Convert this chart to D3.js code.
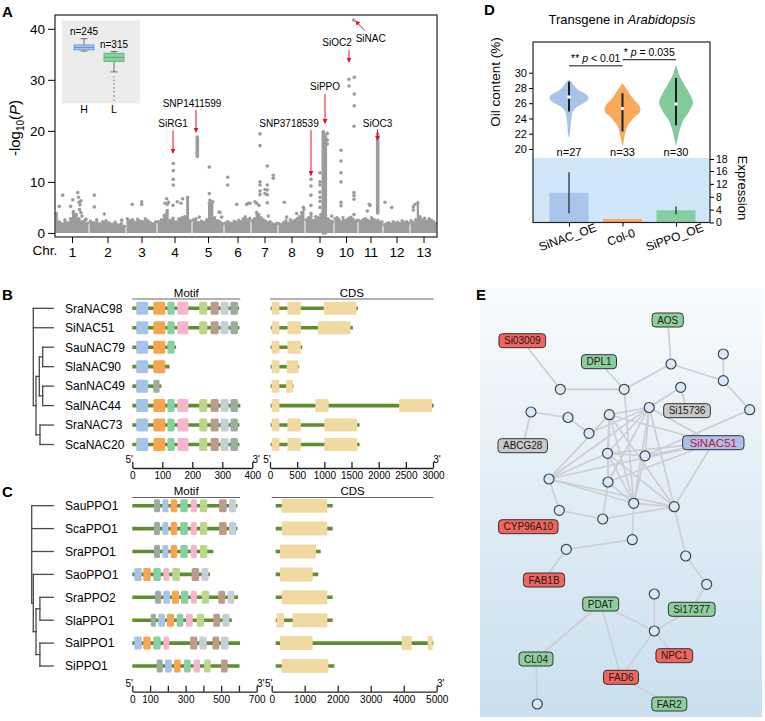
<!doctype html>
<html>
<head>
<meta charset="utf-8">
<script src="https://cdn.jsdelivr.net/npm/d3@7"></script>
<style>
  body { margin: 0; background: #fff; }
  svg { font-family: "Liberation Sans", Arial, sans-serif; }
</style>
</head>
<body>
<svg width="765" height="721"></svg>
<script>
// ---------------- data: panel A (GWAS) ----------------
const chromosomes = ["1","2","3","4","5","6","7","8","9","10","11","12","13"];
const chrLengths = [34,37,31,35,32,27,27,27,29,24,25,27,27]; // Mb (approx)
// height of the dense low-significance mass along each chromosome (-log10 P)
const backgroundLevels = [
  [3.8,2.2,1.8,2.6,2.0,2.8,4.2,3.6,2.8,2.2,2.5,1.9],
  [2.3,2.0,2.6,1.8,2.2,2.4,2.0,1.7,2.1,1.6,1.8,1.3],
  [2.8,2.4,2.6,2.1,2.7,2.3,2.2,2.8,2.4,2.0,1.8,2.2],
  [2.2,2.6,3.4,4.4,2.5,2.9,2.2,2.8,3.0,3.2,7.0,2.4],
  [2.6,2.8,2.0,2.3,2.1,2.6,5.8,6.0,3.0,2.4,2.2,1.8],
  [1.9,2.2,2.0,1.8,2.3,2.0,2.5,2.2,2.8,3.2,2.6,2.9],
  [2.4,2.8,4.0,3.6,3.0,2.6,2.3,2.0,2.2,1.8,1.6,1.9],
  [1.8,1.6,2.0,2.4,1.9,2.6,2.2,2.5,2.8,3.2,4.0,4.6],
  [2.6,3.0,3.3,2.5,3.2,3.0,3.6,4.2,3.5,2.8,2.4,2.2],
  [2.8,3.0,2.6,2.2,3.0,2.4,2.6,2.9,3.1,2.7,2.2,2.5],
  [2.4,2.2,2.6,2.8,2.5,2.3,3.0,2.6,2.1,2.5,2.0,2.2],
  [1.6,1.8,2.0,1.7,2.2,1.9,2.1,1.8,2.4,2.0,2.2,1.9],
  [2.4,2.0,2.6,5.9,3.2,2.6,2.9,2.3,2.8,2.5,2.2,1.8]
];
// [chromosome, position within chromosome (Mb), -log10 P]
const snpPoints = [
  [1,4.3,5.2],[1,7.7,7.4],[1,15.7,5.2],[1,17.7,6.5],[1,18.3,3.9],[1,22.7,7.9],[1,23.5,7.0],[1,24,6.0],
  [1,25,5.5],[1,26,6.3],[1,24.5,4.6],[1,26,4.0],[1,31,2.7],[1,27,3.3],
  [2,5.3,7.4],[2,5.3,5.1],[2,15.3,3.7],[2,32.7,2.5],
  [3,6.3,5.6],[3,15.7,5.6],[3,15.7,6.1],
  [4,8,5.8],[4,9.7,6.7],[4,10.3,5.6],[4,11.5,6.0],[4,9.7,3.8],[4,16.3,13.6],[4,16.3,12.2],[4,16.3,10.5],
  [4,16.3,9.4],[4,16,5.4],[4,20.3,6.1],[4,25.7,6.7],[4,24,5.8],
  [5,7.3,3.1],[5,17.3,12.9],[5,17.3,7.7],[5,20.7,6.1],[5,18,6.4],[5,27,4.1],[5,29.7,3.1],[5,28,4.0],
  [6,3.7,10.9],[6,3.7,9.4],[6,12.7,5.6],[6,22.7,5.6],[6,24.3,5.8],[6,26,5.8],
  [7,9,19.4],[7,9,17.1],[7,9,10.0],[7,9,9.4],[7,9,8.2],[7,9,7.5],[7,8,5.4],[7,16.3,13.1],[7,16.3,9.4],
  [7,16.3,8.4],[7,16.3,7.5],[7,16.3,5.9],[7,14,8.5],[7,14,7.7],[7,22.3,11.3],[7,22.3,10.7],[7,17.3,3.3],
  [7,4,6.1],[7,5.7,5.8],
  [8,6.3,6.0],[8,8.7,3.1],[8,18.7,3.8],[8,25.3,5.0],
  [9,6,10.5],[9,6,9.2],[9,6,7.4],[9,6,5.4],[9,6,3.8],[9,15,11.8],[9,15,10.0],[9,15,9.4],[9,15,8.0],
  [9,15,7.0],[9,15,6.2],[9,15,5.0],[9,22.3,19.5],[9,22.3,18.2],[9,22.3,17.4],[9,26.7,3.3],
  [10,7,16.2],[10,7,14.1],[10,7,11.8],[10,7,10.0],[10,7,6.0],[10,7,5.3],[10,15,30.1],[10,15,28.8],
  [10,20.3,30.5],[10,20.3,27.2],[10,20.3,24.9],[10,20,20.9],[10,20,7.9],[10,20,7.3],[10,20,6.6],
  [10,20,3.6],[10,19.7,41.7],
  [11,9.3,4.3],[11,11.3,5.6],[11,12,5.4],[11,16.3,2.5],
  [12,2,6.0],[12,8.7,5.0],
  [13,3.3,5.1],[13,5,5.6],[13,3.3,4.5]
];
// dense runs of SNPs drawn as one column: [chromosome, position, from, to]
const snpColumns = [[5,5.3,15.0,18.8],[9,18.3,0,19.8],[9,20.3,0,19.0],[11,19.7,3.9,19.4]];
// arrows: label, chromosome, position, arrow tail value, arrow tip value, tail x-offset, label offsets
const hitLabels = ["SiRG1","SNP1411599","SNP3718539","SiPPO","SiOC2","SiNAC","SiOC3"];
const hitChr    = [4,5,9,9,10,10,11];
const hitPos    = [16,4,6,20,15,21.7,19.5];
const hitTail   = [20.1,24.1,20.1,27.2,35.8,39.7,20.3];
const hitTip    = [15.7,19.8,11.3,21.5,33.5,41.5,18.2];
const hitTailDx = [0,0,0,0,0,9,0];
const hitTextDx = [0,-4,-22,0,-12,6,0];
const hitTextDy = [-3,-3,-3,-4,-4,12,-2];

// inset boxplot (oil content of H / L groups)
const insetGroups = ["H","L"];
const insetN = [245,315];
const insetMin = [54.5,49.5], insetQ1 = [54.8,52.0], insetMedian = [55.4,53.0], insetQ3 = [56.0,54.0], insetMax = [57.5,54.4];
const insetOutliersL = [48.3,47.5,46.6,45.6,44.7,43.7,42.7];

// ---------------- data: panels B and C ----------------
const motifColors = ["#a6c3ea","#f7a54e","#86d0a3","#f6b5cc","#bcd78c","#bb9b8c","#c6cfd6","#9eac9f"];
const nacGenes = ["SraNAC98","SiNAC51","SauNAC79","SlaNAC90","SanNAC49","SalNAC44","SraNAC73","ScaNAC20"];
const nacProteinLen = [356,357,146,124,97,360,357,357];
const nacFull = [[0,13,53],[1,70,110],[2,117,141],[3,150,187],[4,223,250],[5,261,288],[6,294,321],[7,327,352]];
const nacMotifs = [nacFull, nacFull, [[0,13,53],[1,70,110],[2,117,141]], [[0,13,53],[1,70,110]],
  [[0,13,53],[7,70,91]], nacFull, nacFull, nacFull];
const nacCdsStart = [12,12,12,12,12,12,12,12];
const nacCdsEnd = [1617,1525,593,537,432,3012,1648,1648];
const nacExons = [
  [[31,173],[321,568],[988,1593]],
  [[31,173],[321,568],[883,1481]],
  [[31,173],[321,568]],
  [[31,173],[309,525]],
  [[31,173],[296,420]],
  [[31,173],[833,1080],[2377,2981]],
  [[31,173],[321,568],[1000,1605]],
  [[31,173],[321,568],[1000,1605]]
];
// tree: d = node depth (0 root .. 1 tips), c = children (numbers are gene rows)
const nacTree = {d:0, c:[0,1,{d:0.135, c:[{d:0.3, c:[{d:0.47, c:[2,3]},{d:0.47, c:[4,5]}]},{d:0.335, c:[6,7]}]}]};
const nacMotifTicks = [0,100,200,300,400];
const nacCdsTicks = [0,500,1000,1500,2000,2500,3000];

const ppoGenes = ["SauPPO1","ScaPPO1","SraPPO1","SaoPPO1","SraPPO2","SlaPPO1","SalPPO1","SiPPO1"];
const ppoProteinLen = [591,591,456,437,595,560,606,603];
const ppoA = [[7,122,156],[0,169,203],[1,216,253],[2,270,312],[3,329,363],[4,381,422],[5,488,531],[6,544,584]];
const ppoMotifs = [
  ppoA, ppoA, ppoA.slice(0,6),
  [[0,11,53],[1,62,104],[2,118,160],[3,175,208],[4,225,268],[5,334,376],[6,389,428]],
  [[7,128,162],[0,175,212],[1,222,263],[2,274,315],[3,329,363],[4,391,432],[5,484,522],[6,537,574]],
  [[7,104,133],[0,146,184],[1,194,235],[2,250,287],[3,302,340],[4,363,404],[5,456,494],[6,507,546]],
  [[0,11,53],[1,62,104],[2,118,160],[3,175,208],[5,325,366],[6,377,419],[5,451,490],[6,499,541]],
  [[7,137,171],[0,184,222],[1,235,272],[2,291,329],[3,344,381],[4,404,441],[5,499,537]]
];
const ppoCdsStart = [121,121,121,121,121,121,121,121];
const ppoCdsEnd = [1848,1848,1485,1412,1848,1848,4900,1898];
const ppoExons = [
  [[303,1685]],[[303,1685]],[[252,1342]],[[252,1242]],[[303,1685]],
  [[152,373],[636,1685]],
  [[252,1242],[3939,4242],[4727,4879]],
  [[303,1717]]
];
const ppoTree = {d:0, c:[0,1,2,{d:0.074, c:[3,{d:0.2, c:[{d:0.38, c:[4,5]},{d:0.38, c:[6,7]}]}]}]};
const ppoMotifTicks = [0,100,200,300,400,500,600,700];
const ppoMotifLabels = [0,100,300,500,700];
const ppoCdsTicks = [0,1000,2000,3000,4000,5000];

// ---------------- data: panel D ----------------
const lines = ["SiNAC_OE","Col-0","SiPPO_OE"];
const lineN = [27,33,30];
const lineColors = ["#a8c3ea","#f8a959","#82ca9c"];
// violin outlines: [oil content %, relative density]
const violinProfiles = [
  [[21.4,0],[22,0.05],[23,0.08],[24,0.12],[24.8,0.18],[25.2,0.28],[25.6,0.45],[26.0,0.75],[26.4,0.95],[26.8,1.0],[27.2,0.85],[27.7,0.5],[28.2,0.3],[28.7,0.15],[29.1,0]],
  [[20.3,0],[20.9,0.05],[21.6,0.1],[22.5,0.18],[23.2,0.3],[23.8,0.48],[24.3,0.65],[24.8,0.88],[25.3,0.92],[25.9,0.8],[26.4,0.62],[27,0.42],[27.6,0.28],[28.2,0.12],[28.6,0]],
  [[20.3,0],[21.2,0.07],[22,0.14],[22.6,0.2],[23.3,0.3],[24,0.42],[24.6,0.6],[25.3,0.75],[26,0.87],[26.6,0.82],[27.2,0.7],[27.8,0.58],[28.5,0.42],[29.1,0.28],[29.8,0.15],[30.4,0.08],[31,0]]
];
const lineLow = [24.9,22.3,23.1], lineHigh = [28.8,27.3,29.3], lineMedian = [26.8,25.3,25.9];
const exprMean = [9.2,1.1,3.8], exprSd = [6.4,0,1.2];
const exprTicks = [0,4,8,12,16,18];
const sigPairs = [[0,1],[1,2]];
const sigStars = ["**","*"];
const sigText = [" < 0.01"," = 0.035"];
const sigLevel = [30.9,31.7];

// ---------------- data: panel E (co-expression network) ----------------
// layout coordinates inside the panel (0..282 across, 0..429 down)
const netNodes = [
  ["c1",243.3,66],["c2",191,76],["c3",243.3,92.7],["c4",80.3,101.3],["c5",144.2,101.3],["c6",200.7,99.3],
  ["c7",169.2,119.5],["c8",269.7,121.7],["c9",51,124],["c10",88,129.5],["c11",129.3,126.7],["c12",109,145.3],
  ["c13",127.5,165.3],["c14",165,167.8],["c15",69,191],["c16",128,194],["c17",153.7,215.3],["c18",194.2,218.7],
  ["c19",79.3,222.3],["c20",122.7,231],["c21",152.3,251.7],["c22",86.3,261.3],["c23",205.7,268],["c24",226.7,296.3],
  ["c25",174.3,306],["c26",174.3,343],["c27",57.3,416]
];
const netGenes = [
  ["AOS",187.7,32,"up"],["Si03009",42.3,52.7,"down"],["DPL1",119,73.7,"up"],["Si15736",207,122.7,"other"],
  ["ABCG28",42.7,157.7,"other"],["SiNAC51",233.3,154.7,"hub"],["CYP96A10",48.3,238.7,"down"],["FAB1B",64,292,"down"],
  ["PDAT",120.7,316,"up"],["Si17377",211.7,321.3,"up"],["NPC1",194.3,367.7,"down"],["CL04",56,371,"up"],
  ["FAD6",141,389.3,"down"],["FAR2",189.3,416,"up"]
];
const netEdges = [
  ["AOS","c2"],["c2","c3"],["c1","c3"],["c2","c5"],["Si03009","c4"],["c4","c5"],["DPL1","c5"],["c3","c8"],
  ["c6","c7"],["c6","Si15736"],["c8","c14"],["c9","c10"],["c9","ABCG28"],["c10","c12"],["c5","c17"],
  ["c7","c11"],["c7","c12"],["c7","c13"],["c7","c14"],["c7","c15"],["c7","c16"],["c7","c17"],["c7","c18"],["c7","SiNAC51"],
  ["c11","c13"],["c11","c16"],["c11","c17"],["c11","c18"],["c11","SiNAC51"],["c11","c15"],
  ["c15","c13"],["c15","SiNAC51"],["c15","c17"],["c15","c18"],["c13","c14"],["c13","SiNAC51"],["c13","c17"],
  ["c13","c18"],["c13","c16"],["c14","SiNAC51"],["c14","c17"],["c16","c17"],["c16","c20"],["c16","SiNAC51"],
  ["c17","c18"],["c17","c21"],["SiNAC51","c18"],["c15","c19"],["c19","c20"],["c20","c18"],["c21","c22"],
  ["c22","FAB1B"],["c18","c23"],["c23","c24"],["c24","Si17377"],["c25","c26"],["c26","Si17377"],["c26","NPC1"],
  ["c26","FAD6"],["PDAT","c26"],["PDAT","CL04"],["PDAT","FAD6"],["FAD6","FAR2"],["CL04","c27"]
];
const netFill = {up:"#8dcf9c", down:"#f0655d", other:"#c9c9c9", hub:"#a9c1ea"};

// ======================================================
const svg = d3.select("svg");
const INK = "#222";

function panelLabel(t, x, y) {
  svg.append("text").attr("x", x).attr("y", y).attr("font-size", 15).attr("font-weight", "bold").text(t);
}

// ---------------- Panel A ----------------
const chrStart = [];
let acc = 0;
chrLengths.forEach(l => { chrStart.push(acc); acc += l; });
const xA = d3.scaleLinear().domain([0, acc]).range([55, 437]);
const yA = d3.scaleLinear().domain([-0.8, 42.7]).range([237, 15]);
const gA = svg.append("g");
const GRAY = "#9c9c9c";

backgroundLevels.forEach((levels, ci) => {
  const w = chrLengths[ci] / levels.length;
  const pts = levels.map((h, j) => [chrStart[ci] + j * w, h]);
  pts.push([chrStart[ci] + chrLengths[ci], levels[levels.length - 1]]);
  pts[0][0] += 0.5; pts[pts.length - 1][0] -= 0.5;
  gA.append("path")
    .attr("d", d3.area().curve(d3.curveStepAfter).x(d => xA(d[0])).y0(yA(0)).y1(d => yA(d[1]))(pts))
    .attr("fill", GRAY);
  // dotted top edge of the mass
  gA.selectAll(null).data(levels).join("circle")
    .attr("cx", (h, j) => xA(chrStart[ci] + (j + 0.5) * w)).attr("cy", h => yA(h))
    .attr("r", 1.7).attr("fill", GRAY);
});
gA.selectAll(".col").data(snpColumns).join("line")
  .attr("x1", d => xA(chrStart[d[0]-1] + d[1])).attr("x2", d => xA(chrStart[d[0]-1] + d[1]))
  .attr("y1", d => yA(d[2])).attr("y2", d => yA(d[3]))
  .attr("stroke", GRAY).attr("stroke-width", 3.6).attr("stroke-linecap", "round");
gA.selectAll(".pt").data(snpPoints).join("circle")
  .attr("cx", d => xA(chrStart[d[0]-1] + d[1])).attr("cy", d => yA(d[2])).attr("r", 1.8).attr("fill", GRAY);

// frame + axes
gA.append("rect").attr("x", 55).attr("y", 15).attr("width", 382).attr("height", 222)
  .attr("fill", "none").attr("stroke", INK).attr("stroke-width", 1.2);
const yAxisA = gA.append("g").attr("transform", "translate(55,0)")
  .call(d3.axisLeft(yA).tickValues([0,10,20,30,40]).tickSize(7).tickPadding(3));
yAxisA.select(".domain").remove();
yAxisA.selectAll("text").attr("font-size", 13.5).attr("font-family", null);
const xAxisA = gA.append("g").attr("transform", "translate(0,237)")
  .call(d3.axisBottom(xA).tickValues(chrStart.map((s, i) => s + chrLengths[i] / 2))
    .tickFormat((d, i) => chromosomes[i]).tickSize(6).tickPadding(4).tickSizeOuter(0));
xAxisA.select(".domain").remove();
xAxisA.selectAll("text").attr("font-size", 13.5).attr("font-family", null);
gA.append("text").attr("x", 45).attr("y", 255).attr("text-anchor", "middle").attr("font-size", 13.5).text("Chr.");
const yl = gA.append("text").attr("transform", "translate(20,128) rotate(-90)").attr("text-anchor", "middle").attr("font-size", 15);
yl.append("tspan").text("-log");
yl.append("tspan").attr("font-size", 10).attr("dy", 4).text("10");
yl.append("tspan").attr("dy", -4).text("(");
yl.append("tspan").attr("font-style", "italic").text("P");
yl.append("tspan").text(")");

// arrows
svg.append("defs").append("marker").attr("id", "ah").attr("viewBox", "0 0 6 6")
  .attr("refX", 5).attr("refY", 3).attr("markerWidth", 5).attr("markerHeight", 5)
  .attr("orient", "auto").attr("markerUnits", "userSpaceOnUse")
  .append("path").attr("d", "M0,0L6,3L0,6z").attr("fill", "#e3151b");
hitLabels.forEach((lab, i) => {
  const x = xA(chrStart[hitChr[i]-1] + hitPos[i]);
  const tx = x + hitTailDx[i], ty = yA(hitTail[i]);
  gA.append("line").attr("x1", tx).attr("y1", ty).attr("x2", x).attr("y2", yA(hitTip[i]))
    .attr("stroke", "#e3151b").attr("stroke-width", 1).attr("marker-end", "url(#ah)");
  gA.append("text").attr("x", tx + hitTextDx[i]).attr("y", ty + hitTextDy[i])
    .attr("text-anchor", "middle").attr("font-size", 10).text(lab);
});

// inset
const gIn = svg.append("g");
gIn.append("rect").attr("x", 62).attr("y", 20.5).attr("width", 78).attr("height", 83).attr("fill", "#ececec");
const xIn = d3.scalePoint().domain(insetGroups).range([84, 114]);
const yIn = d3.scaleLinear().domain([42, 62]).range([103, 20]);
const boxFill = ["#a9c7ee", "#8bd1a2"], boxStroke = ["#5f8fd1", "#4fae74"];
insetGroups.forEach((g, i) => {
  const cx = xIn(g);
  gIn.append("line").attr("x1", cx).attr("x2", cx).attr("y1", yIn(insetMax[i])).attr("y2", yIn(insetMin[i])).attr("stroke", "#555").attr("stroke-width", 0.8);
  [insetMax[i], insetMin[i]].forEach(v => gIn.append("line").attr("x1", cx - 3.5).attr("x2", cx + 3.5).attr("y1", yIn(v)).attr("y2", yIn(v)).attr("stroke", "#555").attr("stroke-width", 0.8));
  gIn.append("rect").attr("x", cx - 10).attr("width", 20).attr("y", yIn(insetQ3[i])).attr("height", yIn(insetQ1[i]) - yIn(insetQ3[i]))
    .attr("fill", boxFill[i]).attr("stroke", boxStroke[i]).attr("stroke-width", 0.8);
  gIn.append("line").attr("x1", cx - 10).attr("x2", cx + 10).attr("y1", yIn(insetMedian[i])).attr("y2", yIn(insetMedian[i])).attr("stroke", boxStroke[i]).attr("stroke-width", 1);
  gIn.append("text").attr("x", cx).attr("y", yIn(insetMax[i]) - 4).attr("text-anchor", "middle").attr("font-size", 10).text("n=" + insetN[i]);
  gIn.append("text").attr("x", cx).attr("y", 113).attr("text-anchor", "middle").attr("font-size", 10.5).text(g);
});
gIn.selectAll(".out").data(insetOutliersL).join("circle").attr("cx", xIn("L")).attr("cy", d => yIn(d)).attr("r", 0.7).attr("fill", "#555");

panelLabel("A", 2, 17);

// ---------------- Panels B and C ----------------
const BACKBONE = "#5f8e2f", EXON = "#f1d9a2";
function drawTree(g, tree, depthX, rowY) {
  function walk(node) {
    if (typeof node === "number") return { x: depthX(1), y: rowY(node) };
    const kids = node.c.map(walk);
    const x = depthX(node.d);
    const y0 = d3.min(kids, k => k.y), y1 = d3.max(kids, k => k.y);
    g.append("line").attr("x1", x).attr("x2", x).attr("y1", y0).attr("y2", y1);
    kids.forEach(k => g.append("line").attr("x1", x).attr("x2", k.x).attr("y1", k.y).attr("y2", k.y));
    return { x, y: (y0 + y1) / 2 };
  }
  walk(tree);
}
function drawStructures(o) {
  const g = svg.append("g");
  const gt = g.append("g").attr("stroke", "#4a4a4a").attr("stroke-width", 1.3).attr("stroke-linecap", "square");
  drawTree(gt, o.tree, o.depthX, o.rowY);
  o.genes.forEach((name, i) => {
    const y = o.rowY(i);
    g.append("text").attr("x", 65).attr("y", y + 4.3).attr("font-size", 12).text(name);
    g.append("line").attr("x1", o.motifX(0)).attr("x2", o.motifX(o.protLen[i])).attr("y1", y).attr("y2", y)
      .attr("stroke", BACKBONE).attr("stroke-width", 3.6);
    o.motifs[i].forEach(m => g.append("rect").attr("x", o.motifX(m[1])).attr("width", o.motifX(m[2]) - o.motifX(m[1]))
      .attr("y", y - 6.5).attr("height", 13).attr("rx", 1.5).attr("fill", motifColors[m[0]]));
    g.append("line").attr("x1", o.cdsX(o.cdsStart[i])).attr("x2", o.cdsX(o.cdsEnd[i])).attr("y1", y).attr("y2", y)
      .attr("stroke", BACKBONE).attr("stroke-width", 3.6);
    o.exons[i].forEach(e => g.append("rect").attr("x", o.cdsX(e[0])).attr("width", o.cdsX(e[1]) - o.cdsX(e[0]))
      .attr("y", y - o.exonH / 2).attr("height", o.exonH).attr("rx", 1).attr("fill", EXON));
  });
  // headers
  const mMax = d3.max(o.protLen), cMax = d3.max(o.cdsEnd);
  [[o.motifX, 0, mMax, "Motif"], [o.cdsX, 0, cMax, "CDS"]].forEach(([sc, a, b, t]) => {
    g.append("line").attr("x1", sc(a)).attr("x2", sc(b)).attr("y1", o.headY).attr("y2", o.headY).attr("stroke", "#555").attr("stroke-width", 0.9);
    g.append("text").attr("x", (sc(a) + sc(b)) / 2).attr("y", o.headY - 2.5).attr("text-anchor", "middle").attr("font-size", 11.5).text(t);
  });
  // axes
  [[o.motifX, o.motifTicks, o.motifLabels], [o.cdsX, o.cdsTicks, o.cdsTicks]].forEach(([sc, ticks, labs]) => {
    const ax = g.append("g").attr("transform", `translate(0,${o.axisY})`)
      .call(d3.axisBottom(sc).tickValues(ticks).tickFormat(d => labs.includes(d) ? d : "").tickSize(-6).tickPadding(4).tickSizeOuter(0));
    ax.select(".domain").attr("stroke", INK).attr("stroke-width", 1.3);
    ax.selectAll("line").attr("stroke", INK).attr("stroke-width", 1.3);
    ax.selectAll("text").attr("font-size", 10).attr("font-family", null);
    const r = sc.range();
    g.append("text").attr("x", r[0] - 3).attr("y", o.axisY - 5).attr("font-size", 10).attr("text-anchor", "middle").text("5'");
    g.append("text").attr("x", r[1] + 4).attr("y", o.axisY - 5).attr("font-size", 10).attr("text-anchor", "middle").text("3'");
  });
}
drawStructures({
  genes: nacGenes, tree: nacTree, depthX: d3.scaleLinear().domain([0,1]).range([33.3, 53.3]),
  rowY: d3.scaleLinear().domain([0,7]).range([308.3, 444.5]),
  motifX: d3.scaleLinear().domain([0,400]).range([132.3, 252.3]),
  cdsX: d3.scaleLinear().domain([0,3000]).range([270, 433]),
  protLen: nacProteinLen, motifs: nacMotifs, cdsStart: nacCdsStart, cdsEnd: nacCdsEnd, exons: nacExons,
  exonH: 13, headY: 299, axisY: 468,
  motifTicks: nacMotifTicks, motifLabels: nacMotifTicks, cdsTicks: nacCdsTicks
});
drawStructures({
  genes: ppoGenes, tree: ppoTree, depthX: d3.scaleLinear().domain([0,1]).range([31.7, 53.3]),
  rowY: d3.scaleLinear().domain([0,7]).range([505.7, 666]),
  motifX: d3.scaleLinear().domain([0,700]).range([132.3, 256.7]),
  cdsX: d3.scaleLinear().domain([0,5000]).range([271.7, 436.7]),
  protLen: ppoProteinLen, motifs: ppoMotifs, cdsStart: ppoCdsStart, cdsEnd: ppoCdsEnd, exons: ppoExons,
  exonH: 14, headY: 497.5, axisY: 691.7,
  motifTicks: ppoMotifTicks, motifLabels: ppoMotifLabels, cdsTicks: ppoCdsTicks
});
panelLabel("B", 2, 300);
panelLabel("C", 2, 497);

// ---------------- Panel D ----------------
const gD = svg.append("g");
const xD = d3.scalePoint().domain(lines).range([569, 676]);
const yV = d3.scaleLinear().domain([20, 30]).range([149, 72.7]);
// expression axis: ticks are evenly spaced, the top tick (18) sits at the top of the strip
const yE = d3.scaleLinear().domain([0, 16, 18]).range([222.5, 171, 159]);
const wV = d3.scaleLinear().domain([0, 1]).range([0, 19.5]);
gD.append("rect").attr("x", 533).attr("y", 158).attr("width", 177).attr("height", 64.5).attr("fill", "#cfe7f8");
lines.forEach((l, i) => {
  const cx = xD(l);
  gD.append("path").attr("d", d3.area().curve(d3.curveCatmullRom)
      .y(d => yV(d[0])).x0(d => cx - wV(d[1])).x1(d => cx + wV(d[1]))(violinProfiles[i]))
    .attr("fill", lineColors[i]);
  gD.append("line").attr("x1", cx).attr("x2", cx).attr("y1", yV(lineLow[i])).attr("y2", yV(lineHigh[i]))
    .attr("stroke", "#1d1d1d").attr("stroke-width", 2);
  gD.append("circle").attr("cx", cx).attr("cy", yV(lineMedian[i])).attr("r", 1.8).attr("fill", "#fff");
  gD.append("text").attr("x", cx).attr("y", 156).attr("text-anchor", "middle").attr("font-size", 11).text("n=" + lineN[i]);
  // expression bars
  gD.append("rect").attr("x", cx - 19.5).attr("width", 39).attr("y", yE(exprMean[i])).attr("height", yE(0) - yE(exprMean[i]))
    .attr("fill", lineColors[i]).attr("opacity", 0.95);
  if (exprSd[i] > 0)
    gD.append("line").attr("x1", cx).attr("x2", cx).attr("y1", yE(exprMean[i] - exprSd[i])).attr("y2", yE(exprMean[i] + exprSd[i]))
      .attr("stroke", "#111").attr("stroke-width", 1.1);
  gD.append("text").attr("transform", `translate(${cx},241) rotate(-20)`).attr("text-anchor", "middle").attr("font-size", 12).text(l);
});
sigPairs.forEach((p, i) => {
  const x1 = xD(lines[p[0]]), x2 = xD(lines[p[1]]), y = yV(sigLevel[i]);
  gD.append("line").attr("x1", x1).attr("x2", x2).attr("y1", y).attr("y2", y).attr("stroke", "#111").attr("stroke-width", 1);
  const t = gD.append("text").attr("x", (x1 + x2) / 2).attr("y", y - 3.5).attr("text-anchor", "middle").attr("font-size", 10.5);
  t.append("tspan").text(sigStars[i] + " ");
  t.append("tspan").attr("font-style", "italic").text("p");
  t.append("tspan").text(sigText[i]);
});
gD.append("rect").attr("x", 533).attr("y", 42).attr("width", 177).attr("height", 180.5).attr("fill", "none").attr("stroke", INK).attr("stroke-width", 1.2);
const axL = gD.append("g").attr("transform", "translate(533,0)").call(d3.axisLeft(yV).tickValues([20,22,24,26,28,30]).tickSize(4).tickPadding(2));
axL.select(".domain").remove();
axL.selectAll("text").attr("font-size", 11).attr("font-family", null);
const axR = gD.append("g").attr("transform", "translate(710,0)").call(d3.axisRight(yE).tickValues(exprTicks).tickSize(4).tickPadding(2));
axR.select(".domain").remove();
axR.selectAll("text").attr("font-size", 10.5).attr("font-family", null);
const axB = gD.append("g").attr("transform", "translate(0,222.5)").call(d3.axisBottom(xD).tickSize(4).tickFormat(""));
axB.select(".domain").remove();
const ttl = gD.append("text").attr("x", 622).attr("y", 24).attr("text-anchor", "middle").attr("font-size", 13);
ttl.append("tspan").text("Transgene in ");
ttl.append("tspan").attr("font-style", "italic").text("Arabidopsis");
gD.append("text").attr("transform", "translate(500,82) rotate(-90)").attr("text-anchor", "middle").attr("font-size", 13.5).text("Oil content (%)");
gD.append("text").attr("transform", "translate(738,188) rotate(90)").attr("text-anchor", "middle").attr("font-size", 13).text("Expression");
panelLabel("D", 484, 15);

// ---------------- Panel E ----------------
const gE = svg.append("g");
const xN = d3.scaleLinear().domain([0, 282]).range([480, 762]);
const yN = d3.scaleLinear().domain([0, 429]).range([288, 717]);
const grad = svg.select("defs").append("linearGradient").attr("id", "bgE").attr("x1", 0).attr("y1", 0).attr("x2", 0).attr("y2", 1);
grad.append("stop").attr("offset", 0).attr("stop-color", "#f8fbfd");
grad.append("stop").attr("offset", 1).attr("stop-color", "#c9dfee");
gE.append("rect").attr("x", xN(0)).attr("y", yN(0)).attr("width", xN(282) - xN(0)).attr("height", yN(429) - yN(0)).attr("fill", "url(#bgE)");
const pos = {};
netNodes.forEach(n => pos[n[0]] = [n[1], n[2]]);
netGenes.forEach(n => pos[n[0]] = [n[1], n[2]]);
gE.selectAll(".edge").data(netEdges).join("line")
  .attr("x1", d => xN(pos[d[0]][0])).attr("y1", d => yN(pos[d[0]][1]))
  .attr("x2", d => xN(pos[d[1]][0])).attr("y2", d => yN(pos[d[1]][1]))
  .attr("stroke", "#cdcfd1").attr("stroke-width", 1.7);
gE.selectAll(".node").data(netNodes).join("circle")
  .attr("cx", d => xN(d[1])).attr("cy", d => yN(d[2])).attr("r", 5)
  .attr("fill", "#d9e9f7").attr("stroke", "#3d4650").attr("stroke-width", 1.2);
netGenes.forEach(n => {
  const hub = n[3] === "hub";
  const gg = gE.append("g").attr("transform", `translate(${xN(n[1])},${yN(n[2])})`);
  const r = gg.append("rect");
  const t = gg.append("text").attr("text-anchor", "middle").attr("y", hub ? 4 : 3.6)
    .attr("font-size", hub ? 11.5 : 10).attr("fill", hub ? "#c8102e" : "#1a1a1a").text(n[0]);
  const w = t.node().getComputedTextLength() + (hub ? 14 : 10);
  r.attr("x", -w / 2).attr("y", -7).attr("width", w).attr("height", 14).attr("rx", 3.5)
    .attr("fill", netFill[n[3]]).attr("stroke", "#333").attr("stroke-width", 1);
});
panelLabel("E", 476, 300);
</script>
</body>
</html>
